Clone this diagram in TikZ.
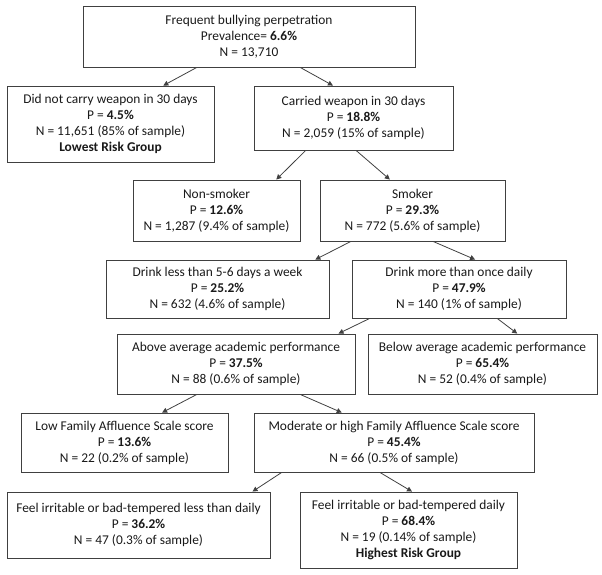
\documentclass[tikz,border=0pt]{standalone}
\usepackage{fontspec}
\setmainfont{Carlito}
\usetikzlibrary{calc,arrows.meta}
\begin{document}
\begin{tikzpicture}[x=1pt,y=-1pt,
  box/.style={draw=black!75, line width=0.9pt, align=center, inner sep=0pt,
    font=\fontsize{13.4}{16}\selectfont, text=black!90},
  arr/.style={draw=black!75, line width=0.8pt, -{Triangle[length=5pt,width=5pt]}}]
\useasboundingbox (0,0) rectangle (602,574);
\node[box, minimum width=332pt, minimum height=61pt] (b1) at (249,36.5)
  {Frequent bullying perpetration\\Prevalence= \textbf{6.6\%}\\N = 13,710};
\node[box, minimum width=207pt, minimum height=76pt] (b2) at (110.5,124)
  {Did not carry weapon in 30 days\\P = \textbf{4.5\%}\\N = 11,651 (85\% of sample)\\\textbf{Lowest Risk Group}};
\node[box, minimum width=199pt, minimum height=64pt] (b3) at (353.5,118)
  {Carried weapon in 30 days\\P = \textbf{18.8\%}\\N = 2,059 (15\% of sample)};
\node[box, minimum width=167pt, minimum height=61pt] (b4) at (216.5,210.5)
  {Non-smoker\\P = \textbf{12.6\%}\\N = 1,287 (9.4\% of sample)};
\node[box, minimum width=185pt, minimum height=61pt] (b5) at (412.5,210.5)
  {Smoker\\P = \textbf{29.3\%}\\N = 772 (5.6\% of sample)};
\node[box, minimum width=223pt, minimum height=58pt] (b6) at (217.5,289)
  {Drink less than 5-6 days a week\\P = \textbf{25.2\%}\\N = 632 (4.6\% of sample)};
\node[box, minimum width=214pt, minimum height=58pt] (b7) at (459,289)
  {Drink more than once daily\\P = \textbf{47.9\%}\\N = 140 (1\% of sample)};
\node[box, minimum width=238pt, minimum height=60pt] (b8) at (236,364)
  {Above average academic performance\\P = \textbf{37.5\%}\\N = 88 (0.6\% of sample)};
\node[box, minimum width=229pt, minimum height=60pt] (b9) at (482.5,364)
  {Below average academic performance\\P = \textbf{65.4\%}\\N = 52 (0.4\% of sample)};
\node[box, minimum width=207pt, minimum height=59pt] (b10) at (124.5,442.5)
  {Low Family Affluence Scale score\\P = \textbf{13.6\%}\\N = 22 (0.2\% of sample)};
\node[box, minimum width=280pt, minimum height=59pt] (b11) at (394,442.5)
  {Moderate or high Family Affluence Scale score\\P = \textbf{45.4\%}\\N = 66 (0.5\% of sample)};
\node[box, minimum width=263pt, minimum height=66pt] (b12) at (138.5,525)
  {Feel irritable or bad-tempered less than daily\\P = \textbf{36.2\%}\\N = 47 (0.3\% of sample)};
\node[box, minimum width=217pt, minimum height=76pt] (b13) at (408.5,530)
  {Feel irritable or bad-tempered daily\\P = \textbf{68.4\%}\\N = 19 (0.14\% of sample)\\\textbf{Highest Risk Group}};
\newcommand\conn[4]{\draw[arr] ($(#1.south west)!#2!(#1.south east)$) -- ($(#3.north west)!#4!(#3.north east)$);}
\conn{b1}{0.343}{b2}{0.754}
\conn{b1}{0.654}{b3}{0.397}
\conn{b3}{0.261}{b4}{0.856}
\conn{b3}{0.513}{b5}{0.378}
\conn{b5}{0.168}{b6}{0.937}
\conn{b5}{0.611}{b7}{0.575}
\conn{b7}{0.084}{b8}{0.929}
\conn{b7}{0.678}{b9}{0.651}
\conn{b8}{0.336}{b10}{0.681}
\conn{b8}{0.769}{b11}{0.314}
\conn{b11}{0.100}{b12}{0.932}
\conn{b11}{0.450}{b13}{0.516}
\end{tikzpicture}
\end{document}
